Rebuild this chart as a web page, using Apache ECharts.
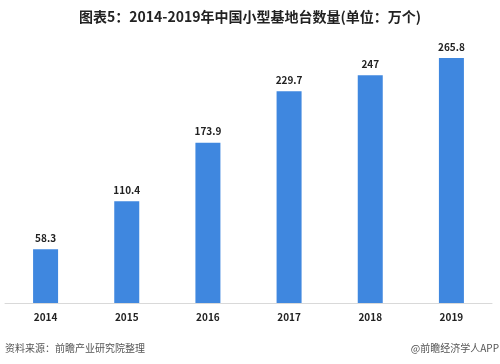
<!DOCTYPE html>
<html><head><meta charset="utf-8">
<script src="https://cdn.jsdelivr.net/npm/echarts@6/dist/echarts.min.js"></script>
<style>html,body{margin:0;padding:0;background:#fff}#c{width:500px;height:364px}</style>
</head><body><div id="c"></div>
<script>
const categories = ['2014','2015','2016','2017','2018','2019'];
const values = [58.3, 110.4, 173.9, 229.7, 247, 265.8];
const chart = echarts.init(document.getElementById('c'));
const font = '"Noto Sans CJK SC", "Microsoft YaHei", sans-serif';
chart.setOption({
  animation: false,
  title: {
    text: '图表5：2014-2019年中国小型基地台数量(单位：万个)',
    left: 'center', top: 5,
    textStyle: {fontSize: 14, fontWeight: 'bold', color: '#222', fontFamily: font}
  },
  grid: {left: 5, right: 8, top: 26.4, bottom: 61},
  xAxis: {
    type: 'category', data: categories,
    axisLine: {lineStyle: {color: '#d9d9d9'}},
    axisTick: {show: false},
    axisLabel: {fontSize: 10, fontWeight: 'bold', color: '#222', margin: 9, fontFamily: font}
  },
  yAxis: {type: 'value', min: 0, max: 300, show: false, splitLine: {show: false}},
  series: [{
    type: 'bar', data: values, barWidth: 25,
    itemStyle: {color: '#3f87df'},
    label: {show: true, position: 'top', distance: 6, fontSize: 10, fontWeight: 'bold', color: '#222', fontFamily: font}
  }],
  graphic: [
    {type: 'text', left: 5, top: 343, style: {text: '资料来源：前瞻产业研究院整理', fontSize: 10, fill: '#555', fontFamily: font}},
    {type: 'text', right: 1, top: 343, style: {text: '@前瞻经济学人APP', fontSize: 10, fill: '#555', fontFamily: font}}
  ]
});
</script></body></html>
